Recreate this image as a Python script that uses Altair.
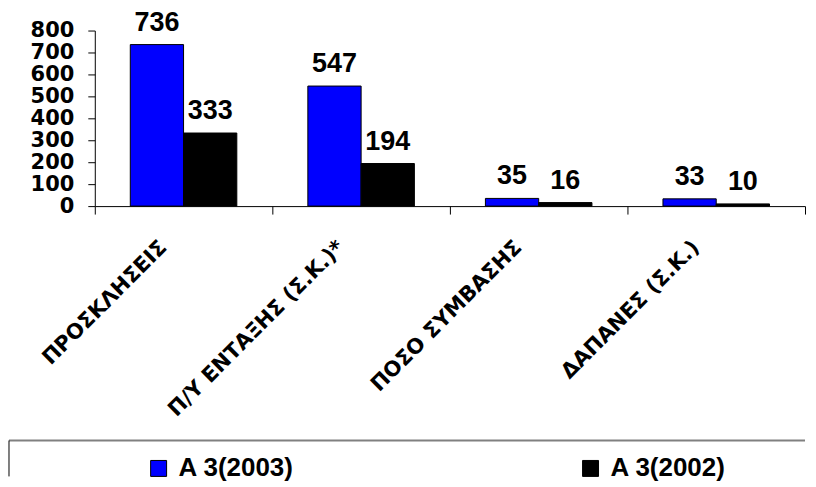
import altair as alt
import pandas as pd

categories = ["ΠΡΟΣΚΛΗΣΕΙΣ", "Π/Υ ΕΝΤΑΞΗΣ (Σ.Κ.)*", "ΠΟΣΟ ΣΥΜΒΑΣΗΣ", "ΔΑΠΑΝΕΣ (Σ.Κ.)"]
series = ["A 3(2003)", "A 3(2002)"]
values_2003 = [736, 547, 35, 33]
values_2002 = [333, 194, 16, 10]
colors = ["#0000FF", "#000000"]
y_ticks = [0, 100, 200, 300, 400, 500, 600, 700, 800]
boundaries = [0, 1, 2, 3, 4]

rows = []
for c, a, b in zip(categories, values_2003, values_2002):
    rows.append({"cat": c, "series": series[0], "value": a})
    rows.append({"cat": c, "series": series[1], "value": b})
df = pd.DataFrame(rows)

W, H = 712, 176

x_enc = alt.X("cat:N", sort=categories,
              scale=alt.Scale(paddingInner=0.4, paddingOuter=0.2),
              axis=alt.Axis(title=None, labelAngle=-45, labelAlign="right",
                            labelBaseline="middle", labelFont="DejaVu Sans",
                            labelFontSize=21, labelFontWeight="bold",
                            labelColor="black", labelLimit=500,
                            ticks=False, tickSize=0, labelPadding=38,
                            labelOffset=-20, domainColor="black"))
xo_enc = alt.XOffset("series:N", sort=series)
y_enc = alt.Y("value:Q", scale=alt.Scale(domain=[0, 800], nice=False),
              axis=alt.Axis(title=None, values=y_ticks, grid=False,
                            labelOverlap=False,
                            labelFont="DejaVu Sans", labelFontSize=21,
                            labelFontWeight="bold", labelColor="black",
                            tickSize=7, tickColor="black", labelPadding=14,
                            domainColor="black"))

bars = alt.Chart(df).mark_bar(stroke="black", strokeWidth=1).encode(
    x=x_enc, xOffset=xo_enc, y=y_enc,
    color=alt.Color("series:N", sort=series,
                    scale=alt.Scale(domain=series, range=colors),
                    legend=alt.Legend(title=None, orient="none", legendX=51,
                                      legendY=426, direction="horizontal",
                                      symbolType="square", symbolSize=256,
                                      symbolStrokeColor="black",
                                      symbolStrokeWidth=1, symbolOpacity=1,
                                      labelFont="Liberation Sans",
                                      labelFontSize=26, labelFontWeight="bold",
                                      labelColor="black", labelOffset=7,
                                      columnPadding=284, padding=0)),
)

texts = alt.Chart(df).mark_text(baseline="bottom", dy=-8,
                                font="Liberation Sans", fontSize=27,
                                fontWeight="bold", color="black").encode(
    x=x_enc, xOffset=xo_enc, y=y_enc,
    text="value:Q")

main = alt.layer(bars, texts)

tick_df = pd.DataFrame({"b": boundaries})
tick_layer = alt.Chart(tick_df).mark_point(opacity=0).encode(
    x=alt.X("b:Q", scale=alt.Scale(domain=[0, 4], nice=False, zero=False),
            axis=alt.Axis(orient="bottom", values=boundaries, labels=False,
                          domain=False, ticks=True, tickSize=8,
                          tickColor="black", grid=False, title=None)))

box_top = alt.Chart(alt.Data(values=[{}])).mark_rule(
    color="#808080", strokeWidth=2).encode(
    x=alt.value(-86), x2=alt.value(W), y=alt.value(411))
box_left = alt.Chart(alt.Data(values=[{}])).mark_rule(
    color="black", strokeWidth=1).encode(
    x=alt.value(-86), y=alt.value(411), y2=alt.value(447))

chart = alt.layer(main, tick_layer, box_top, box_left).resolve_scale(
    x="independent").properties(
    width=W, height=H,
    padding={"top": 0, "left": 0, "right": 0, "bottom": 0}).configure_view(
    stroke=None)

chart.save("out.html", embed_options={"renderer": "svg", "actions": False})
